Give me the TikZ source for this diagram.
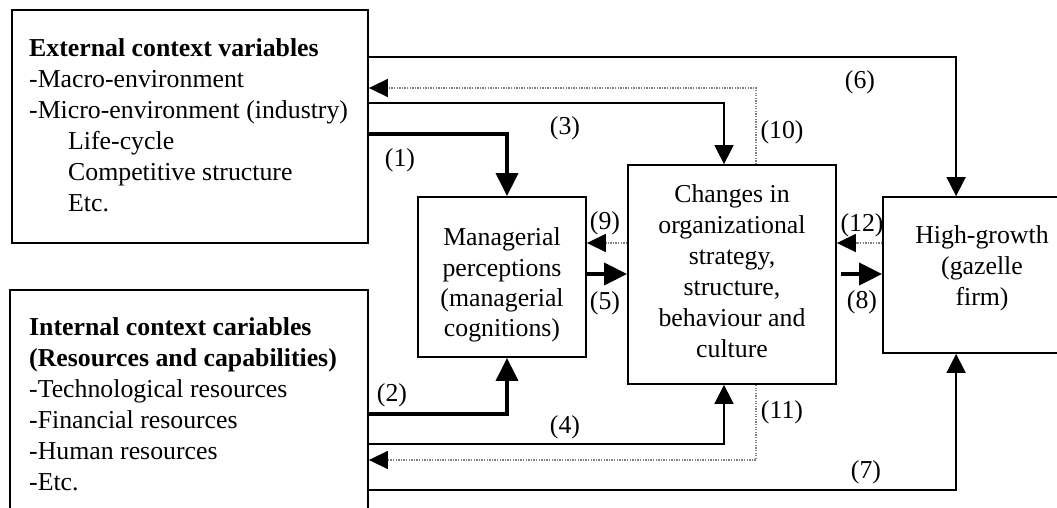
\documentclass[tikz,border=0pt]{standalone}
\usepackage{fontspec}
\setmainfont{Liberation Serif}
\usetikzlibrary{arrows.meta}
\begin{document}
\begin{tikzpicture}[x=1pt,y=-1pt,
  box/.style={draw,line width=1.8pt,rectangle,inner sep=0pt},
  txt/.style={inner sep=0pt,font=\fontsize{25.8}{31}\selectfont},
  lbl/.style={inner sep=0pt,font=\fontsize{25.8}{31}\selectfont},
  thinarrow/.style={line width=1.7pt,-{Triangle[length=19pt,width=19pt]}},
  thickarrow/.style={line width=3.4pt,-{Triangle[length=23pt,width=22pt]}},
  dotarrow/.style={line width=1.5pt,draw=gray,dash pattern=on 1.3pt off 1.3pt,-{Triangle[length=19pt,width=18pt,color=black,fill=black]}}]
\useasboundingbox (0,0) rectangle (1057,508);
\fill[white] (0,0) rectangle (1057,508);
% boxes
\node[box,minimum width=356pt,minimum height=233pt] (ext) at (190,126.5) {};
\node[box,minimum width=358pt,minimum height=240pt] (int) at (189,410) {};
\node[box,minimum width=168pt,minimum height=160pt] (man) at (502,277) {};
\node[box,minimum width=208pt,minimum height=219pt] (chg) at (732,274.5) {};
\node[box,minimum width=198pt,minimum height=156pt] (hg) at (982,275) {};
% texts
\node[txt,anchor=north west,align=left] (extt) at (29,38.5) {\textbf{External context variables}\\-Macro-environment\\-Micro-environment (industry)\\\hspace*{39pt}Life-cycle\\\hspace*{39pt}Competitive structure\\\hspace*{39pt}Etc.};
\node[txt,anchor=north west,align=left] (intt) at (29,317) {\textbf{Internal context cariables}\\\textbf{(Resources and capabilities)}\\-Technological resources\\-Financial resources\\-Human resources\\-Etc.};
\node[txt,align=center,font=\fontsize{25.8}{30.3}\selectfont] (mant) at (502,285) {Managerial\\perceptions\\(managerial\\cognitions)};
\node[txt,align=center] (chgt) at (732,271) {Changes in\\organizational\\strategy,\\structure,\\behaviour and\\culture};
\node[txt,align=center] (hgt) at (982,268.5) {High-growth\\(gazelle\\firm)};
% connectors
\draw[thinarrow] (ext.east |- 0,57) -| ([xshift=74pt]hg.north west);
\draw[dotarrow] ([xshift=24pt]chg.north) |- (ext.east |- 0,88);
\draw[thinarrow] (ext.east |- 0,103) -| ([xshift=-8pt]chg.north);
\draw[thickarrow] (ext.east |- 0,134) -| ([xshift=5pt]man.north);
\draw[dotarrow] (chg.west |- 0,243) -- (man.east |- 0,243);
\draw[thickarrow] (man.east |- 0,274) -- (chg.west |- 0,274);
\draw[dotarrow] (hg.west |- 0,243) -- (chg.east |- 0,243);
\draw[thickarrow] ([xshift=4pt]chg.east |- 0,274) -- (hg.west |- 0,274);
\draw[thickarrow] (int.east |- 0,414) -| ([xshift=5pt]man.south);
\draw[thinarrow] (int.east |- 0,444) -| ([xshift=-8pt]chg.south);
\draw[dotarrow] ([xshift=24pt]chg.south) |- (int.east |- 0,460);
\draw[thinarrow] (int.east |- 0,490) -| ([xshift=74pt]hg.south west);
% labels
\node[lbl] (l1) at (400,160) {(1)};
\node[lbl] (l3) at (565,128) {(3)};
\node[lbl] (l10) at (782,132) {(10)};
\node[lbl] (l6) at (860,82) {(6)};
\node[lbl] (l9) at (605,223) {(9)};
\node[lbl] (l5) at (605,303) {(5)};
\node[lbl] (l12) at (862,225) {(12)};
\node[lbl] (l8) at (862,302) {(8)};
\node[lbl] (l2) at (392,395) {(2)};
\node[lbl] (l4) at (565,427) {(4)};
\node[lbl] (l11) at (782,412) {(11)};
\node[lbl] (l7) at (866,472) {(7)};
\end{tikzpicture}
\end{document}
